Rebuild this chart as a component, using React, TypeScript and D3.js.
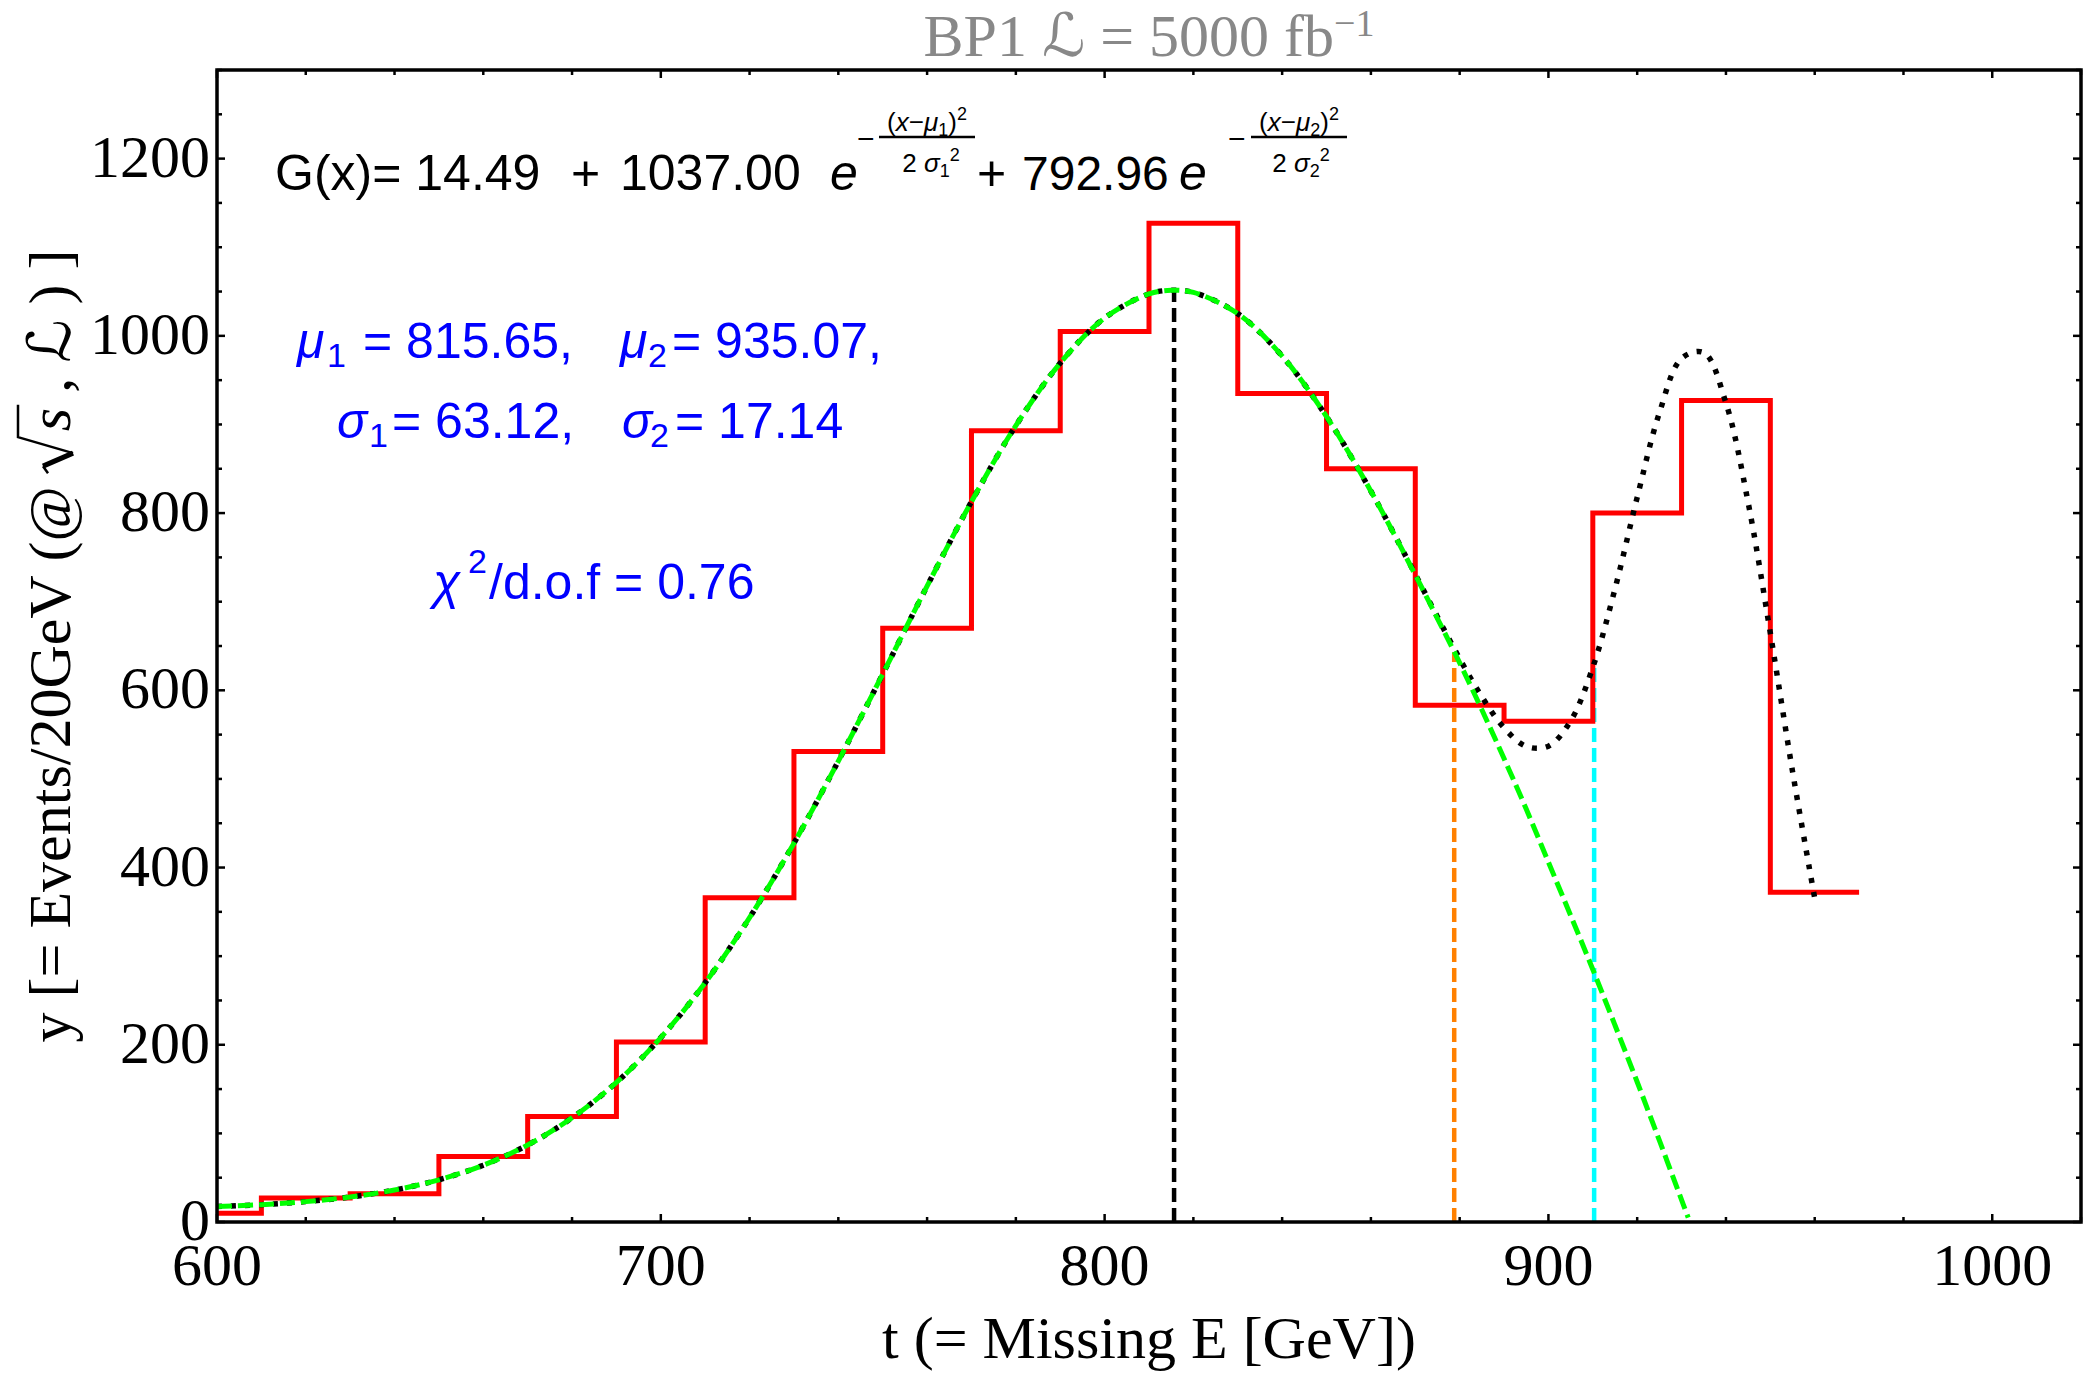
import React, { useLayoutEffect, useRef, useState } from "react";
import * as d3 from "d3";

const W = 2083;
const H = 1375;
const plot = { left: 217, right: 2081, top: 70, bottom: 1222 };

// histogram: bin edges [GeV] and events per bin
const binEdges = [600, 610, 630, 650, 670, 690, 710, 730, 750, 770, 790, 810, 830, 850, 870, 890, 910, 930, 950, 970];
const binCounts = [10, 27, 32, 74, 119, 203, 366, 531, 670, 893, 1005, 1127, 935, 850, 583, 565, 800, 927, 372];

// total double-gaussian fit G(x), black dotted
const fitT = [600, 610, 620, 630, 640, 650, 660, 670, 680, 690, 700, 710, 720, 730, 740, 750, 760, 770, 780, 790, 800, 810, 815, 820, 830, 840, 850, 860, 870, 875, 880, 885, 890, 895, 900, 905, 910, 915, 920, 925, 930, 935, 940, 945, 950, 955, 960];
const fitY = [17.5, 19.6, 23.0, 28.2, 36.1, 47.6, 64.1, 86.9, 117.6, 157.5, 208.1, 270.0, 343.4, 427.5, 520.1, 618.3, 717.6, 812.9, 898.7, 969.3, 1020.1, 1047.3, 1051.4, 1049.0, 1025.1, 977.2, 908.8, 824.7, 730.8, 682.7, 635.7, 592.6, 557.7, 536.7, 537.0, 565.4, 625.9, 714.5, 817.7, 913.1, 974.5, 981.1, 924.2, 811.9, 664.7, 508.5, 365.4];

// first component, green dashed
const compT = [600, 610, 620, 630, 640, 650, 660, 670, 680, 690, 700, 710, 720, 730, 740, 750, 760, 770, 780, 790, 800, 810, 815, 820, 830, 840, 850, 860, 870, 875, 880, 885, 890, 895, 900, 905, 910, 915, 920, 925, 930, 931.5];
const compY = [17.5, 19.6, 23.0, 28.2, 36.1, 47.6, 64.1, 86.9, 117.6, 157.5, 208.1, 270.0, 343.4, 427.5, 520.1, 618.3, 717.6, 812.9, 898.7, 969.3, 1020.1, 1047.3, 1051.4, 1049.0, 1025.1, 977.2, 908.8, 824.7, 730.2, 681, 631, 578, 523, 466, 406, 346, 285, 222, 158, 92, 25, 5];

// vertical marker lines
const markerT = [815.65, 878.77, 910.3];
const markerTop = [1051, 643, 630];
const markerColor = ["#000000", "#ff8000", "#00ffff"];

const xTicks = [600, 700, 800, 900, 1000];
const yTicks = [0, 200, 400, 600, 800, 1000, 1200];

const serif = "'Liberation Serif', 'Times New Roman', serif";
const sans = "'Liberation Sans', Arial, Helvetica, sans-serif";
const script = "'DejaVu Serif', 'DejaVu Sans', serif";

const yLabelPrefix = "y [= Events/20GeV (@ ";

function YLabel({ cx, cy }: { cx: number; cy: number }) {
  const ref = useRef<SVGTextElement>(null);
  const [rad, setRad] = useState<{ s0: number; s1: number } | null>(null);

  useLayoutEffect(() => {
    const el = ref.current;
    if (!el) return;
    try {
      const ext = el.getExtentOfChar(yLabelPrefix.length);
      setRad({ s0: ext.x, s1: ext.x + ext.width });
    } catch (e) {
      // leave without radical
    }
  }, []);

  return (
    <g transform={`translate(${cx},${cy}) rotate(-90)`}>
      <text ref={ref} x={0} y={0} textAnchor="middle" fontFamily={serif} fontSize={60}>
        {yLabelPrefix}
        <tspan dx={40} fontStyle="italic">s</tspan>
        {" , "}
        <tspan fontFamily={script} fontStyle="italic">ℒ</tspan>
        {" ) ]"}
      </text>
      {rad && (
        <g fill="none" stroke="#000" strokeLinejoin="miter">
          <path d={`M${rad.s0 - 42},-22 L${rad.s0 - 35},-27`} strokeWidth={2.5} />
          <path d={`M${rad.s0 - 35},-27 L${rad.s0 - 22},3`} strokeWidth={5} />
          <path d={`M${rad.s0 - 22},3 L${rad.s0 - 6},-52 L${rad.s1 + 3},-52`} strokeWidth={2.5} />
        </g>
      )}
    </g>
  );
}

export default function App() {
  const x = d3.scaleLinear().domain([600, 1020]).range([plot.left, plot.right]);
  const y = d3.scaleLinear().domain([0, 1300]).range([plot.bottom, plot.top]);

  const xMinor = d3.range(600, 1021, 20).filter((t) => t % 100 !== 0);
  const yMinor = d3.range(0, 1301, 50).filter((v) => v % 200 !== 0);

  const histPts: [number, number][] = binEdges.map((e, i) => [e, binCounts[Math.min(i, binCounts.length - 1)]]);
  const histLine = d3
    .line<[number, number]>()
    .x((d) => x(d[0]))
    .y((d) => y(d[1]))
    .curve(d3.curveStepAfter);

  const fitPath = d3
    .line<number>()
    .x((d, i) => x(fitT[i]))
    .y((d) => y(d))
    .curve(d3.curveCatmullRom.alpha(0.5))(fitY);
  const compPath = d3
    .line<number>()
    .x((d, i) => x(compT[i]))
    .y((d) => y(d))
    .curve(d3.curveCatmullRom.alpha(0.5))(compY);

  const major = 8;
  const minor = 5;

  return (
    <svg
      width={W}
      height={H}
      viewBox={`0 0 ${W} ${H}`}
      style={{ position: "absolute", left: 0, top: 0, background: "#fff" }}
    >
      <defs>
        <clipPath id="plotClip">
          <rect x={plot.left} y={plot.top} width={plot.right - plot.left} height={plot.bottom - plot.top} />
        </clipPath>
      </defs>

      {/* title */}
      <text x={1149} y={56} textAnchor="middle" fontFamily={serif} fontSize={60} fill="#888888">
        {"BP1 "}
        <tspan fontFamily={script} fontStyle="italic">ℒ</tspan>
        {" = 5000 fb"}
        <tspan fontSize={38} dy={-20}>−1</tspan>
      </text>

      <g clipPath="url(#plotClip)">
        {markerT.map((t, i) => (
          <line
            key={"m" + i}
            x1={x(t)}
            x2={x(t)}
            y1={y(0)}
            y2={y(markerTop[i])}
            stroke={markerColor[i]}
            strokeWidth={4.5}
            strokeDasharray="14,6"
          />
        ))}
        <path d={histLine(histPts) || ""} fill="none" stroke="#ff0000" strokeWidth={5} />
        <path d={fitPath || ""} fill="none" stroke="#000" strokeWidth={5.5} strokeDasharray="5,9" />
        <path d={compPath || ""} fill="none" stroke="#00ff00" strokeWidth={5} strokeDasharray="15,6" />
      </g>

      {/* frame and ticks */}
      <rect
        x={plot.left}
        y={plot.top}
        width={plot.right - plot.left}
        height={plot.bottom - plot.top}
        fill="none"
        stroke="#000"
        strokeWidth={3.5}
      />
      <g stroke="#000" strokeWidth={2.5}>
        {xTicks.concat(xMinor).map((t) => {
          const len = t % 100 === 0 ? major : minor;
          return (
            <g key={"xt" + t}>
              <line x1={x(t)} x2={x(t)} y1={plot.bottom} y2={plot.bottom - len} />
              <line x1={x(t)} x2={x(t)} y1={plot.top} y2={plot.top + len} />
            </g>
          );
        })}
        {yTicks.concat(yMinor).map((v) => {
          const len = v % 200 === 0 ? major : minor;
          return (
            <g key={"yt" + v}>
              <line x1={plot.left} x2={plot.left + len} y1={y(v)} y2={y(v)} />
              <line x1={plot.right} x2={plot.right - len} y1={y(v)} y2={y(v)} />
            </g>
          );
        })}
      </g>

      {/* tick labels */}
      <g fontFamily={serif} fontSize={60} fill="#000">
        {xTicks.map((t) => (
          <text key={"xl" + t} x={x(t)} y={1285} textAnchor="middle">
            {t}
          </text>
        ))}
        {yTicks.map((v) => (
          <text key={"yl" + v} x={210} y={y(v) + 18} textAnchor="end">
            {v}
          </text>
        ))}
      </g>

      {/* axis labels */}
      <text x={(plot.left + plot.right) / 2} y={1358} textAnchor="middle" fontFamily={serif} fontSize={60}>
        t (= Missing E [GeV])
      </text>
      <YLabel cx={70} cy={(plot.top + plot.bottom) / 2} />

      {/* fit formula */}
      <g fontFamily={sans} fill="#000">
        <text x={275} y={190} fontSize={50}>G(x)= 14.49</text>
        <text x={571} y={190} fontSize={50}>+</text>
        <text x={620} y={190} fontSize={50}>1037.00</text>
        <text x={830} y={190} fontSize={50} fontStyle="italic">e</text>
        <text x={857} y={149} fontSize={30}>−</text>
        <text x={927} y={131} fontSize={26} textAnchor="middle">
          {"("}
          <tspan fontStyle="italic">x</tspan>
          {"−"}
          <tspan fontStyle="italic">μ</tspan>
          <tspan fontSize={18} dy={5}>1</tspan>
          <tspan dy={-5}>)</tspan>
          <tspan fontSize={18} dy={-11}>2</tspan>
        </text>
        <line x1={879} x2={975} y1={137} y2={137} stroke="#000" strokeWidth={2.5} />
        <text x={931} y={172} fontSize={26} textAnchor="middle">
          {"2 "}
          <tspan fontStyle="italic">σ</tspan>
          <tspan fontSize={18} dy={5}>1</tspan>
          <tspan fontSize={18} dy={-16}>2</tspan>
        </text>

        <text x={977} y={190} fontSize={50}>+</text>
        <text x={1022} y={190} fontSize={48}>792.96</text>
        <text x={1179} y={190} fontSize={50} fontStyle="italic">e</text>
        <text x={1228} y={149} fontSize={30}>−</text>
        <text x={1299} y={131} fontSize={26} textAnchor="middle">
          {"("}
          <tspan fontStyle="italic">x</tspan>
          {"−"}
          <tspan fontStyle="italic">μ</tspan>
          <tspan fontSize={18} dy={5}>2</tspan>
          <tspan dy={-5}>)</tspan>
          <tspan fontSize={18} dy={-11}>2</tspan>
        </text>
        <line x1={1251} x2={1347} y1={137} y2={137} stroke="#000" strokeWidth={2.5} />
        <text x={1301} y={172} fontSize={26} textAnchor="middle">
          {"2 "}
          <tspan fontStyle="italic">σ</tspan>
          <tspan fontSize={18} dy={5}>2</tspan>
          <tspan fontSize={18} dy={-16}>2</tspan>
        </text>
      </g>

      {/* fit parameters */}
      <g fontFamily={sans} fill="#0000ff" fontSize={50}>
        <text x={297} y={358} fontStyle="italic">μ</text>
        <text x={327} y={367} fontSize={34}>1</text>
        <text x={363} y={358}>= 815.65,</text>
        <text x={620} y={358} fontStyle="italic">μ</text>
        <text x={648} y={367} fontSize={34}>2</text>
        <text x={672} y={358}>= 935.07,</text>

        <text x={337} y={438} fontStyle="italic">σ</text>
        <text x={369} y={447} fontSize={34}>1</text>
        <text x={392} y={438}>= 63.12,</text>
        <text x={622} y={438} fontStyle="italic">σ</text>
        <text x={650} y={447} fontSize={34}>2</text>
        <text x={675} y={438}>= 17.14</text>

        <text x={433} y={599} fontStyle="italic">χ</text>
        <text x={468} y={573} fontSize={34}>2</text>
        <text x={489} y={599}>/d.o.f = 0.76</text>
      </g>
    </svg>
  );
}
